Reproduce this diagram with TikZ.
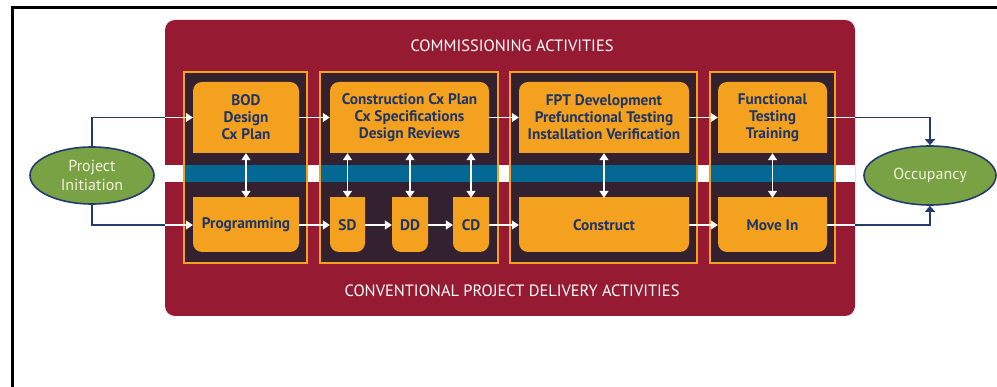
\documentclass[tikz,border=0pt]{standalone}
\usepackage{fontspec}
\setmainfont{PT Sans}
\usetikzlibrary{arrows.meta,shapes.geometric,calc}
\definecolor{crim}{HTML}{951A32}
\definecolor{darkbox}{HTML}{33212F}
\definecolor{orangeC}{HTML}{F4A11F}
\definecolor{blueband}{HTML}{036894}
\definecolor{navyT}{HTML}{1E3566}
\definecolor{navyE}{HTML}{233B6E}
\definecolor{greenE}{HTML}{78A243}
\definecolor{cream}{HTML}{F3F1DD}
\begin{document}
\begin{tikzpicture}[x=1pt,y=-1pt,
  topbox/.style={minimum width=#1, minimum height=71pt, inner sep=0pt, align=center,
    font=\bfseries\fontsize{15.3}{17}\selectfont, text=navyT,
    path picture={\fill[orangeC, rounded corners=9pt] ([yshift=-12pt]path picture bounding box.south west) rectangle (path picture bounding box.north east);}},
  botbox/.style={minimum width=#1, minimum height=54pt, inner sep=0pt, align=center,
    font=\bfseries\fontsize{15.3}{17}\selectfont, text=navyT,
    path picture={\fill[orangeC, rounded corners=9pt] (path picture bounding box.south west) rectangle ([yshift=12pt]path picture bounding box.north east);}},
  oval/.style={ellipse, fill=greenE, draw=navyE, line width=1.6pt, inner sep=0pt, align=center,
    text=cream, font=\fontsize{16}{19}\selectfont},
  wline/.style={draw=white, line width=1.4pt},
  warrow/.style={wline, -{Triangle[length=7pt,width=9pt]}},
  wdouble/.style={wline, {Triangle[length=7pt,width=9pt]}-{Triangle[length=7pt,width=9pt]}},
  navyline/.style={draw=navyE, line width=1.8pt},
  navyarrow/.style={navyline, -{Triangle[length=6pt,width=10pt]}},
  title/.style={text=white, font=\fontsize{16.4}{19}\selectfont, inner sep=0pt}
]
\useasboundingbox (0,0) rectangle (997,387);
% outer frame
\draw[line width=3pt, line cap=rect] (12,387) -- (12,7.5) -- (997,7.5);
% crimson panel
\node[fill=crim, rounded corners=10pt, minimum width=690pt, minimum height=296pt, inner sep=0pt] (cr) at (510,168) {};
% white strip
\fill[white] (165,165) rectangle (855,182);
% dark stage boxes
\foreach \a/\b in {183/308, 319/499, 509/698, 709/836}{
  \fill[darkbox] (\a,71) rectangle (\b,264);
  \fill[blueband] (\a,165) rectangle (\b,182);
  \draw[orangeC, line width=1.5pt] (\a+1,72) rectangle (\b-1,263);
}
% titles
\node[title] (hdr) at (512,46) {COMMISSIONING ACTIVITIES};
\node[title] (ftr) at (512,291) {CONVENTIONAL PROJECT DELIVERY ACTIVITIES};
% top row
\node[topbox=106pt] (bod) at (246,117.5) {BOD\\Design\\Cx Plan};
\node[topbox=159pt] (ccx) at (409.5,117.5) {Construction Cx Plan\\Cx Specifications\\Design Reviews};
\node[topbox=170pt] (fpt) at (604,117.5) {FPT Development\\Prefunctional Testing\\Installation Verification};
\node[topbox=109pt] (ft) at (772.5,117.5) {Functional\\Testing\\Training};
% bottom row
\node[botbox=106pt] (prog) at (246,225) {Programming};
\node[botbox=35pt] (sd) at (347.5,225) {SD};
\node[botbox=36pt] (dd) at (410,225) {DD};
\node[botbox=36pt] (cd) at (471,225) {CD};
\node[botbox=170pt] (con) at (604,225) {Construct};
\node[botbox=109pt] (mi) at (772.5,225) {Move In};
% horizontal arrows
\draw[warrow] (bod.east) -- (ccx.west);
\draw[warrow] (ccx.east) -- (fpt.west);
\draw[warrow] (fpt.east) -- (ft.west);
\draw[warrow] (prog.east) -- (sd.west);
\draw[warrow] (sd.east) -- (dd.west);
\draw[warrow] (dd.east) -- (cd.west);
\draw[warrow] (cd.east) -- (con.west);
\draw[warrow] (con.east) -- (mi.west);
% vertical double arrows
\draw[wdouble] (bod.south) -- (prog.north);
\draw[wdouble] (ccx.south -| sd.north) -- (sd.north);
\draw[wdouble] (ccx.south -| dd.north) -- (dd.north);
\draw[wdouble] (ccx.south -| cd.north) -- (cd.north);
\draw[wdouble] (fpt.south) -- (con.north);
\draw[wdouble] (ft.south) -- (mi.north);
% ovals
\node[oval, minimum width=124pt, minimum height=57pt] (pi) at (92,175.5) {Project\\Initiation};
\node[oval, minimum width=132pt, minimum height=59pt] (occ) at (930,175.5) {Occupancy};
% outside connectors
\coordinate (c1) at (cr.west |- bod.west);
\coordinate (c2) at (cr.west |- prog.west);
\coordinate (c3) at (cr.east |- ft.east);
\coordinate (c4) at (cr.east |- mi.east);
\draw[navyline] (pi.north) |- (c1);
\draw[warrow] (c1) -- (bod.west);
\draw[navyline] (pi.south) |- (c2);
\draw[warrow] (c2) -- (prog.west);
\draw[wline] (ft.east) -- (c3);
\draw[navyarrow] (c3) -| (occ.north);
\draw[wline] (mi.east) -- (c4);
\draw[navyarrow] (c4) -| (occ.south);
\end{tikzpicture}
\end{document}
